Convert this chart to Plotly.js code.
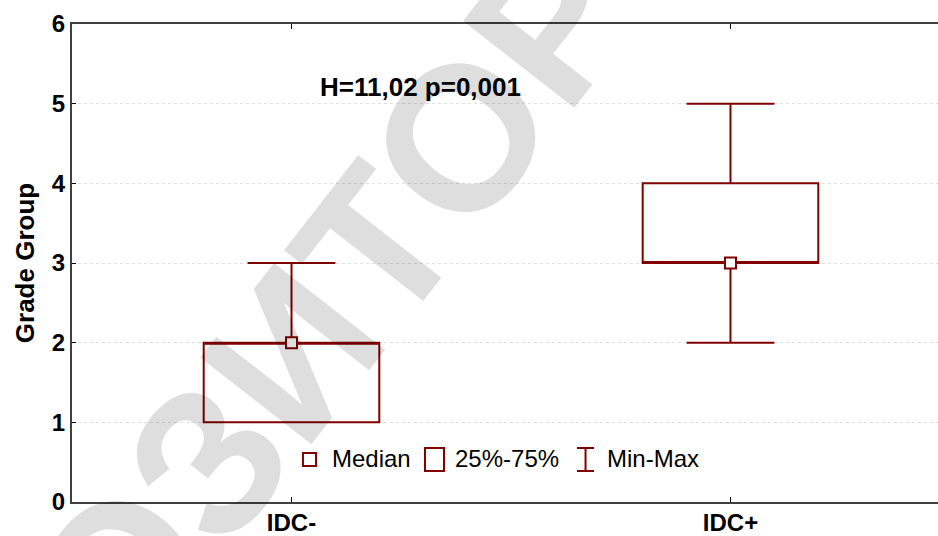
<!DOCTYPE html>
<html>
<head>
<meta charset="utf-8">
<script src="https://cdn.plot.ly/plotly-3.0.1.min.js"></script>
<style>html,body{margin:0;padding:0;background:#fff;}#chart{width:938px;height:536px;}</style>
</head>
<body>
<div id="chart"></div>
<script>
// Data
const categories = ['IDC-', 'IDC+'];
const minVals = [1, 2];
const q1Vals = [1, 3];
const medianVals = [2, 3];
const q3Vals = [2, 4];
const maxVals = [3, 5];
const yTickVals = [0, 1, 2, 3, 4, 5, 6];
const statText = 'H=11,02 p=0,001';
const legendLabels = ['Median', '25%-75%', 'Min-Max'];
const watermarkText = 'РЕПОЗИТОРИЙ';

const RED = '#800000';
const FONT = 'Liberation Sans, Arial, sans-serif';

const traces = [
  {
    type: 'box',
    x: categories,
    q1: q1Vals,
    median: medianVals,
    q3: q3Vals,
    lowerfence: minVals,
    upperfence: maxVals,
    width: 0.4,
    whiskerwidth: 0.5,
    boxpoints: false,
    fillcolor: 'rgba(255,255,255,0)',
    line: {color: RED, width: 2},
    showlegend: false,
    hoverinfo: 'skip'
  },
  {
    type: 'scatter',
    mode: 'markers',
    x: categories,
    y: medianVals,
    marker: {symbol: 'square', size: 11, color: '#ffffff', line: {color: RED, width: 2}},
    showlegend: false,
    hoverinfo: 'skip'
  }
];

// legend (custom, paper coords)
const shapes = [
  {type: 'rect', xref: 'paper', yref: 'paper', x0: 0.2667, x1: 0.2818, y0: 0.0753, y1: 0.1025, line: {color: RED, width: 2}, fillcolor: '#fff'},
  {type: 'rect', xref: 'paper', yref: 'paper', x0: 0.4076, x1: 0.4296, y0: 0.0649, y1: 0.1130, line: {color: RED, width: 2}, fillcolor: 'rgba(0,0,0,0)'},
  {type: 'line', xref: 'paper', yref: 'paper', x0: 0.5930, x1: 0.5930, y0: 0.0649, y1: 0.1130, line: {color: RED, width: 2}},
  {type: 'line', xref: 'paper', yref: 'paper', x0: 0.5831, x1: 0.6028, y0: 0.1130, y1: 0.1130, line: {color: RED, width: 2}},
  {type: 'line', xref: 'paper', yref: 'paper', x0: 0.5831, x1: 0.6028, y0: 0.0649, y1: 0.0649, line: {color: RED, width: 2}}
];

const legendX = [0.2979, 0.4400, 0.6155];
const annotations = [
  {xref: 'paper', yref: 'paper', x: 0.403, y: 0.868, xanchor: 'center', yanchor: 'middle',
   text: statText, showarrow: false, font: {family: FONT, size: 26, color: '#000', weight: 'bold'}}
];
legendLabels.forEach((t, i) => annotations.push({
  xref: 'paper', yref: 'paper', x: legendX[i], y: 0.090, xanchor: 'left', yanchor: 'middle',
  text: t, showarrow: false, font: {family: FONT, size: 24, color: '#000'}
}));
annotations.push({
  xref: 'paper', yref: 'paper', x: (292 - 72) / 866, y: (502 - 352) / 478, xanchor: 'center', yanchor: 'middle',
  text: watermarkText, showarrow: false, textangle: -52,
  font: {family: FONT, size: 205, color: 'rgba(0,0,0,0.13)', weight: 'bold'}
});

const layout = {
  width: 938, height: 536,
  margin: {l: 72, r: 0, t: 24, b: 34, pad: 0},
  paper_bgcolor: '#fff', plot_bgcolor: '#fff',
  showlegend: false,
  xaxis: {
    type: 'category', range: [-0.5, 1.4727],
    showline: true, linecolor: '#404040', linewidth: 2, mirror: 'ticks',
    ticks: 'inside', ticklen: 5, tickcolor: '#000', tickwidth: 1,
    ticklabelstandoff: -2,
    showgrid: false, zeroline: false,
    tickfont: {family: FONT, size: 24, color: '#000', weight: 'bold'}
  },
  yaxis: {
    range: [0, 6], tickvals: yTickVals,
    showline: true, linecolor: '#404040', linewidth: 2, mirror: false,
    ticks: 'inside', ticklen: 4, tickcolor: '#000', tickwidth: 1,
    showgrid: true, gridcolor: '#e0e0e0', griddash: 'dot', gridwidth: 1,
    zeroline: false,
    tickfont: {family: FONT, size: 24, color: '#000', weight: 'bold'},
    title: {text: 'Grade Group', standoff: 10, font: {family: FONT, size: 26, color: '#000', weight: 'bold'}}
  },
  shapes: shapes,
  annotations: annotations
};

Plotly.newPlot('chart', traces, layout, {displayModeBar: false, staticPlot: true});
</script>
</body>
</html>
